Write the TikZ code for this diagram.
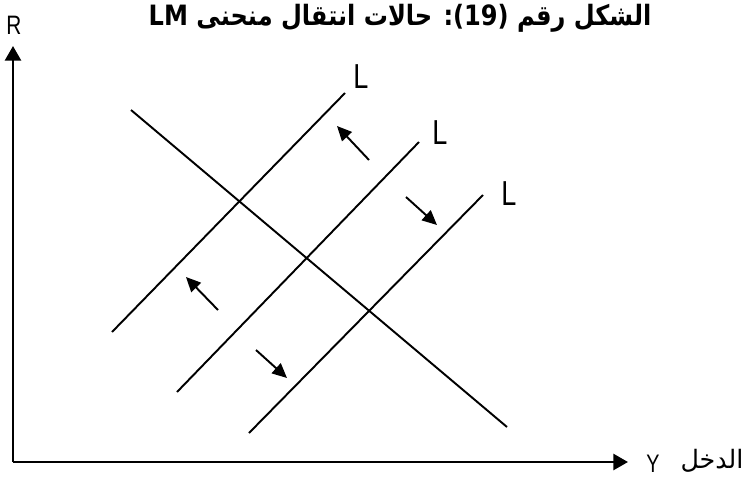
\documentclass[tikz,border=0pt]{standalone}
\usepackage{fontspec}
\setmainfont{Liberation Sans}
\newfontfamily\narrowfont[FakeStretch=0.78]{Liberation Sans}
\newfontfamily\arabicfont[Script=Arabic]{DejaVu Sans}
\newfontfamily\arabictitle[Script=Arabic,FakeStretch=0.86]{DejaVu Sans}
\TeXXeTstate=1
\usetikzlibrary{arrows.meta}
\begin{document}
\begin{tikzpicture}[x=0.75pt,y=-0.75pt,
  curve/.style={line width=1.45pt},
  axis/.style={line width=2pt,-{Triangle[length=11pt,width=12pt]}},
  shift arrow/.style={line width=1.45pt,-{Triangle[length=11pt,width=10pt]}},
  lab/.style={font=\narrowfont\fontsize{26pt}{28pt}\selectfont,inner sep=0pt},
  title/.style={font=\arabictitle\bfseries\fontsize{21pt}{23pt}\selectfont,inner sep=0pt}]
\useasboundingbox (0,0) rectangle (746,479);
% axes
\coordinate (O) at (13,462);
\coordinate (Ytop) at (13,46);
\coordinate (Xend) at (628,462);
\draw[axis] (O) -- (Ytop);
\draw[axis] (O) -- (Xend);
% IS curve
\coordinate (is1) at (131,110);
\coordinate (is2) at (507,427);
\draw[curve] (is1) -- (is2);
% LM curves
\coordinate (a1) at (112,332); \coordinate (a2) at (345,93);
\coordinate (b1) at (177,392); \coordinate (b2) at (419,142);
\coordinate (c1) at (249,433); \coordinate (c2) at (483,195);
\draw[curve] (a1) -- (a2);
\draw[curve] (b1) -- (b2);
\draw[curve] (c1) -- (c2);
% labels
\node[lab] (L1) at (361,77) {L};
\node[lab] (L2) at (440,133) {L};
\node[lab] (L3) at (509,194) {L};
\node[lab,font=\narrowfont\fontsize{20pt}{22pt}\selectfont] (R) at (14,25) {R};
\node[lab,font=\narrowfont\fontsize{19pt}{21pt}\selectfont] (Y) at (653,464) {Y};
\node[inner sep=0pt,font=\arabicfont\fontsize{19pt}{21pt}\selectfont] (inc) at (712,461) {\beginR الدخل\endR};
% shift arrows
\coordinate (s1a) at (369,160); \coordinate (s1b) at (337,126);
\coordinate (s2a) at (406,197); \coordinate (s2b) at (437,225);
\coordinate (s3a) at (218,310); \coordinate (s3b) at (186,277);
\coordinate (s4a) at (256,350); \coordinate (s4b) at (287,378);
\draw[shift arrow] (s1a) -- (s1b);
\draw[shift arrow] (s2a) -- (s2b);
\draw[shift arrow] (s3a) -- (s3b);
\draw[shift arrow] (s4a) -- (s4b);
% title
\node[title] (T) at (400,18) {\beginR الشكل رقم \beginL(19):\endL{} حالات انتقال منحنى \beginL LM\endL\endR};
\end{tikzpicture}
\end{document}
